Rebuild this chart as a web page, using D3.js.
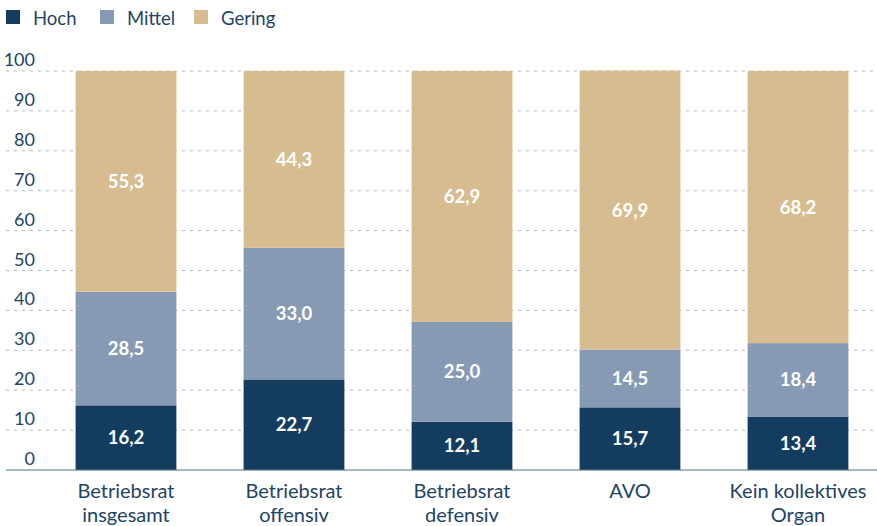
<!DOCTYPE html>
<html>
<head>
<meta charset="utf-8">
<script src="https://cdn.jsdelivr.net/npm/d3@7"></script>
<style>
  body { margin: 0; background: #fff; }
  svg text { font-family: "Source Sans Pro", "Lato", "Noto Sans", sans-serif; }
</style>
</head>
<body>
<div id="chart"></div>
<script>
// stacked shares by type of employee representation (in percent)
var categories = [["Betriebsrat", "insgesamt"], ["Betriebsrat", "offensiv"],
                  ["Betriebsrat", "defensiv"], ["AVO"],
                  ["Kein kollektives", "Organ"]];
var seriesNames = ["Hoch", "Mittel", "Gering"];
var hoch = [16.2, 22.7, 12.1, 15.7, 13.4];
var mittel = [28.5, 33.0, 25.0, 14.5, 18.4];
var gering = [55.3, 44.3, 62.9, 69.9, 68.2];
var yTicks = [0, 10, 20, 30, 40, 50, 60, 70, 80, 90, 100];
var colors = ["#143c5e", "#869bb3", "#d7bc90"];

var W = 877, H = 526;
var svg = d3.select("#chart").append("svg").attr("width", W).attr("height", H);

var rows = categories.map(function (c, i) {
  return { key: i, Hoch: hoch[i], Mittel: mittel[i], Gering: gering[i] };
});
var stack = d3.stack().keys(seriesNames)(rows);

var x = d3.scaleBand().domain(d3.range(categories.length))
  .range([42, 882]).paddingInner(0.4).paddingOuter(0.2);
var y = d3.scaleLinear().domain([0, 100]).range([470, 71]);

// gridlines + tick labels
var grid = svg.append("g");
yTicks.forEach(function (t) {
  if (t > 0) {
    grid.append("line").attr("x1", 6).attr("x2", W).attr("y1", y(t)).attr("y2", y(t))
      .attr("stroke", "#a9b8c9").attr("stroke-width", 1).attr("stroke-dasharray", "3,5");
  }
  grid.append("text").attr("x", 35).attr("y", y(t) - 5)
    .attr("text-anchor", "end").attr("font-size", 18).attr("fill", "#1d4466")
    .text(t);
});

// bars
var layers = svg.append("g").selectAll("g").data(stack).join("g")
  .attr("fill", function (d, i) { return colors[i]; });
layers.selectAll("rect").data(function (d) { return d; }).join("rect")
  .attr("x", function (d, i) { return x(i); })
  .attr("width", x.bandwidth())
  .attr("y", function (d) { return y(d[1]); })
  .attr("height", function (d) { return y(d[0]) - y(d[1]); });

// value labels
svg.append("g").selectAll("g").data(stack).join("g")
  .selectAll("text").data(function (d) { return d; }).join("text")
  .attr("x", function (d, i) { return x(i) + x.bandwidth() / 2; })
  .attr("y", function (d) { return (y(d[0]) + y(d[1])) / 2 + 6.5; })
  .attr("text-anchor", "middle").attr("font-size", 18.5).attr("font-weight", 700)
  .attr("fill", "#fff")
  .text(function (d) { return (d[1] - d[0]).toFixed(1).replace(".", ","); });

// baseline
svg.append("line").attr("x1", 6).attr("x2", W).attr("y1", y(0)).attr("y2", y(0))
  .attr("stroke", "#4f6f8f").attr("stroke-width", 1.2);

// category labels
categories.forEach(function (lines, i) {
  var t = svg.append("text").attr("text-anchor", "middle")
    .attr("font-size", 20).attr("fill", "#1d4466");
  lines.forEach(function (l, j) {
    t.append("tspan").attr("x", x(i) + x.bandwidth() / 2)
      .attr("y", 498 + j * 24).text(l);
  });
});

// legend
var lx = [6, 100, 194];
seriesNames.forEach(function (n, i) {
  svg.append("rect").attr("x", lx[i]).attr("y", 10).attr("width", 14).attr("height", 14)
    .attr("fill", colors[i]);
  svg.append("text").attr("x", lx[i] + 27).attr("y", 25).attr("font-size", 18.5)
    .attr("fill", "#1d4466").text(n);
});
</script>
</body>
</html>
